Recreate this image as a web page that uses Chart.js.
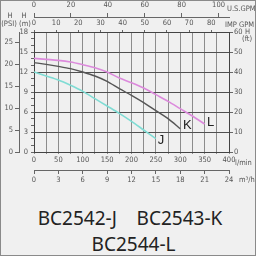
<!DOCTYPE html>
<html>
<head>
<meta charset="utf-8">
<script src="https://cdn.jsdelivr.net/npm/chart.js@4"></script>
<style>
html, body { margin: 0; padding: 0; background: #f0f0f0; }
#wrap { position: relative; width: 256px; height: 256px; overflow: hidden; }
#grafico { position: absolute; left: 0; top: 0; }
.modelo { position: absolute; left: 0; width: 256px; box-sizing: border-box; text-align: center; font-family: "Noto Sans", sans-serif; font-size: 19px; line-height: 26px; color: #222; white-space: pre; }
#marco { position: absolute; left: 0; top: 0; width: 256px; height: 256px; box-sizing: border-box; border: 1px solid #8a8a8a; pointer-events: none; }
</style>
</head>
<body>
<div id="wrap">
  <canvas id="grafico" width="256" height="192" style="width:256px;height:192px"></canvas>
  <div class="modelo" id="linea1" style="top:205px;padding-left:4px"></div>
  <div class="modelo" id="linea2" style="top:231px;padding-left:11px"></div>
  <div id="marco"></div>
</div>
<script>
// caudal en l/min, altura en m
const caudal = [0, 25, 50, 75, 100, 125, 150, 175, 200, 225, 250, 275, 300, 325, 350];
const alturaJ = [12.0, 11.4, 10.8, 10.0, 9.1, 8.0, 6.9, 5.8, 4.6, 3.3, 2.0];
const alturaK = [13.4, 13.15, 12.85, 12.5, 12.0, 11.4, 10.6, 9.5, 8.5, 7.4, 6.2, 5.0, 3.5];
const alturaL = [14.05, 13.9, 13.75, 13.5, 13.1, 12.65, 12.0, 11.1, 10.4, 9.6, 8.6, 7.6, 6.5, 5.4, 4.2];
const letras = ['J', 'K', 'L'];
const modelos = ['BC2542-J', 'BC2543-K', 'BC2544-L'];

const maxLmin = 400;
const maxM = 18;
const maxPsi = 27.3;
const maxFt = 60;
const maxUsGpm = maxLmin / 3.785411784;
const maxImpGpm = maxLmin / 4.54609;
const maxM3h = 24;

document.getElementById('linea1').textContent = modelos[0] + '    ' + modelos[1];
document.getElementById('linea2').textContent = modelos[2];

function puntos(alturas) {
    return alturas.map((h, i) => ({x: caudal[i], y: h}));
}

const fuente = {family: '"Liberation Sans Narrow", "DejaVu Sans Condensed", sans-serif', size: 7.5};
const gris = '#555';

const textos = {
    id: 'textos',
    afterDraw(chart) {
        const c = chart.ctx;
        const xs = chart.scales.x;
        const ys = chart.scales.y;
        c.save();
        c.fillStyle = gris;
        c.font = '7.5px "Liberation Sans Narrow", "DejaVu Sans Condensed", sans-serif';
        c.textBaseline = 'middle';
        c.textAlign = 'center';
        c.fillText('H', 10, 16);
        c.fillText('(PSI)', 9, 24);
        c.fillText('H', 24, 16);
        c.fillText('(m)', 25, 24);
        c.textAlign = 'left';
        c.fillText('U.S.GPM', 227, 9);
        c.fillText('IMP GPM', 225, 25);
        c.fillText('H', 245, 32);
        c.fillText('(ft)', 242, 39);
        c.fillText('l/min', 235, 163);
        c.fillText('m³/h', 239, 180);

        // letra al final de cada curva
        const series = [alturaJ, alturaK, alturaL];
        const desp = [[5, 2], [7, -3], [6, -2]];
        c.fillStyle = '#222';
        c.font = '13px "Liberation Sans", Arial, sans-serif';
        c.textAlign = 'center';
        series.forEach((s, i) => {
            const n = s.length - 1;
            const px = xs.getPixelForValue(caudal[n]);
            const py = ys.getPixelForValue(s[n]);
            c.fillText(letras[i], px + desp[i][0], py + desp[i][1]);
        });
        c.restore();
    }
};

const ctx = document.getElementById('grafico').getContext('2d');

new Chart(ctx, {
    type: 'line',
    data: {
        datasets: [
            {label: letras[0], data: puntos(alturaJ), borderColor: '#7fdcd4', borderWidth: 1.6, pointRadius: 0, tension: 0.3},
            {label: letras[1], data: puntos(alturaK), borderColor: '#555555', borderWidth: 1.4, pointRadius: 0, tension: 0.3},
            {label: letras[2], data: puntos(alturaL), borderColor: '#dc8adc', borderWidth: 1.6, pointRadius: 0, tension: 0.3}
        ]
    },
    options: {
        responsive: false,
        animation: false,
        layout: {padding: 0},
        plugins: {legend: {display: false}, tooltip: {enabled: false}},
        scales: {
            x: {
                type: 'linear', position: 'bottom', weight: 0, min: 0, max: maxLmin,
                ticks: {stepSize: 25, autoSkip: false, maxRotation: 0, padding: 2, color: gris, font: fuente,
                    callback: v => v % 50 === 0 ? v : ''},
                grid: {color: '#8c8c8c', tickLength: 2},
                border: {color: '#444'},
                afterFit(s) { s.height = 18; }
            },
            m3h: {
                type: 'linear', position: 'bottom', weight: 1, min: 0, max: maxM3h,
                ticks: {stepSize: 3, autoSkip: false, maxRotation: 0, padding: 2, color: gris, font: fuente},
                grid: {drawOnChartArea: false, color: '#666', tickLength: 4},
                border: {color: '#666'},
                afterFit(s) { s.height = 22; }
            },
            impgpm: {
                type: 'linear', position: 'top', weight: 0, min: 0, max: maxImpGpm,
                ticks: {stepSize: 10, includeBounds: false, autoSkip: false, maxRotation: 0, padding: 2, color: gris, font: fuente},
                grid: {drawOnChartArea: false, color: '#666', tickLength: 2},
                border: {color: '#444'},
                afterFit(s) { s.height = 15; }
            },
            usgpm: {
                type: 'linear', position: 'top', weight: 1, min: 0, max: maxUsGpm,
                ticks: {stepSize: 20, includeBounds: false, autoSkip: false, maxRotation: 0, padding: 3, color: gris, font: fuente},
                grid: {drawOnChartArea: false, color: '#666', tickLength: 4},
                border: {color: '#666'},
                afterFit(s) { s.height = 17; }
            },
            y: {
                type: 'linear', position: 'left', weight: 0, min: 0, max: maxM,
                ticks: {stepSize: 1, autoSkip: false, padding: 3, color: gris, font: fuente,
                    callback: v => v % 3 === 0 ? v : ''},
                grid: {
                    color: c => (c.tick && c.tick.value % 3 === 0) ? '#505050' : 'rgba(0,0,0,0)',
                    tickColor: '#666', tickLength: 3
                },
                border: {color: '#444'},
                afterFit(s) { s.width = 15; }
            },
            psi: {
                type: 'linear', position: 'left', weight: 1, min: 0, max: maxPsi,
                ticks: {stepSize: 5, includeBounds: false, autoSkip: false, padding: 2, color: gris, font: fuente},
                grid: {drawOnChartArea: false, color: '#666', tickLength: 4},
                border: {color: '#666'},
                afterFit(s) { s.width = 19; }
            },
            ft: {
                type: 'linear', position: 'right', weight: 0, min: 0, max: maxFt,
                ticks: {stepSize: 10, autoSkip: false, padding: 1, color: gris, font: fuente},
                grid: {drawOnChartArea: false, color: '#666', tickLength: 4},
                border: {color: '#444'},
                afterFit(s) { s.width = 27; }
            }
        }
    },
    plugins: [textos]
});
</script>
</body>
</html>
